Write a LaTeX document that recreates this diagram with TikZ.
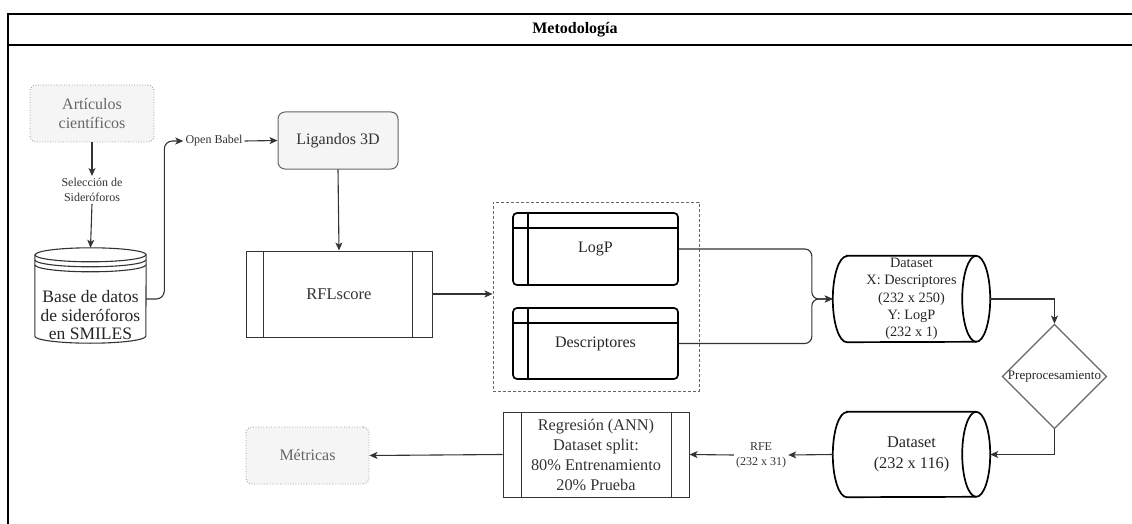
\documentclass[tikz,border=0pt]{standalone}
\usepackage{fontspec}
\setmainfont{Liberation Serif}
\usetikzlibrary{arrows.meta,shapes.geometric,calc}
\definecolor{lightfill}{HTML}{F5F5F5}
\definecolor{midgray}{HTML}{666666}
\definecolor{darkgray}{HTML}{333333}
\definecolor{dotgray}{HTML}{9A9A9A}
\newcommand{\fsz}[2]{\fontsize{#1}{#2}\selectfont}
\begin{document}
\begin{tikzpicture}[x=1pt,y=-1pt,
  box/.style={rectangle, inner sep=0pt, align=center},
  softbox/.style={box, rounded corners=6pt, draw=dotgray, fill=lightfill, dash pattern=on 0.8pt off 1.8pt, line width=0.9pt, text=midgray, font=\fsz{16}{19}},
  ligbox/.style={box, rounded corners=7pt, draw=midgray, fill=lightfill, line width=1pt, text=darkgray, font=\fsz{16}{19}},
  procbox/.style={box, draw=darkgray, line width=1pt, text=darkgray},
  tablebox/.style={box, draw=black, line width=1.7pt, rounded corners=4pt, text=black!85, font=\fsz{16}{19}},
  cyltext/.style={box, text=black!85},
  lbl/.style={rectangle, inner sep=2pt, align=center, text=darkgray, fill=white, font=\fsz{12}{15}},
  arr/.style={draw=darkgray, line width=1.1pt, -{Stealth[length=8pt,width=7pt,inset=2pt]}},
  thickline/.style={draw=black, line width=1.7pt},
  frameline/.style={draw=black, line width=1.2pt}
]
\useasboundingbox (0,0) rectangle (1132,524);
% frame
\coordinate (ftl) at (8,14);
\coordinate (ftr) at (1140,14);
\coordinate (fml) at (8,45);
\coordinate (fmr) at (1140,45);
\coordinate (fbl) at (8,530);
\draw[frameline] (ftr) -- (ftl) -- (fbl);
\draw[frameline] (fml) -- (fmr);
\node[box, font=\fsz{16}{19}\bfseries] (title) at (575,30) {Metodología};

% nodes
\node[softbox, minimum width=124pt, minimum height=57pt] (art) at (92,113.5) {Artículos\\científicos};
\node[lbl] (sel) at (92,190) {Selección de\\Sideróforos};
\node[box, minimum width=111pt, minimum height=95pt] (db) at (90.5,295.5) {};
\node[cyltext, font=\fsz{17.5}{18.5}] (dbtxt) at (90.5,315.5) {Base de datos\\de sideróforos\\en SMILES};
\node[lbl] (ob) at (214,141) {Open Babel};
\node[ligbox, minimum width=120pt, minimum height=57pt] (lig) at (338,140.5) {Ligandos 3D};
\node[procbox, minimum width=186pt, minimum height=86pt, font=\fsz{16.5}{19}] (rfl) at (339,294) {RFLscore};
\node[box, draw=midgray, line width=1pt, dash pattern=on 3pt off 2pt, minimum width=206pt, minimum height=189pt] (grp) at (596,296.5) {};
\node[tablebox, minimum width=165pt, minimum height=72pt] (logp) at (595.5,249) {LogP};
\node[tablebox, minimum width=165pt, minimum height=71pt] (desc) at (595.5,343.5) {Descriptores};
\node[cyltext, minimum width=157pt, minimum height=86pt, font=\fsz{14.3}{17.2}] (ds1) at (911.5,299) {Dataset\\X: Descriptores\\(232 x 250)\\Y: LogP\\(232 x 1)};
\node[diamond, draw=midgray, line width=1.2pt, inner sep=0pt, minimum width=103pt, minimum height=93pt, font=\fsz{13}{15}, text=black!85] (pre) at (1054.5,376.5) {Preprocesamiento};
\node[cyltext, minimum width=157pt, minimum height=85pt, font=\fsz{16.3}{21}] (ds2) at (911.5,454.5) {Dataset\\(232 x 116)};
\node[lbl] (rfe) at (761,455) {RFE\\(232 x 31)};
\node[procbox, minimum width=186pt, minimum height=85pt, font=\fsz{16.3}{20}] (reg) at (596,454.5) {Regresión (ANN)\\Dataset split:\\80\% Entrenamiento\\20\% Prueba};
\node[softbox, minimum width=123pt, minimum height=57pt] (met) at (307.5,455.5) {Métricas};

% database cylinder (vertical, stacked top)
\draw[draw=darkgray, line width=1.1pt] ([yshift=-7pt]db.north west) -- ([yshift=7pt]db.south west)
  arc[start angle=180, end angle=360, x radius=55.5pt, y radius=7pt]
  -- ([yshift=-7pt]db.north east)
  arc[start angle=0, end angle=180, x radius=55.5pt, y radius=7pt] -- cycle;
\draw[draw=darkgray, line width=1.1pt] ([yshift=-7pt]db.north west) arc[start angle=180, end angle=360, x radius=55.5pt, y radius=7pt];
\draw[draw=darkgray, line width=1.1pt] ([yshift=-12pt]db.north west) arc[start angle=180, end angle=360, x radius=55.5pt, y radius=7pt];
\draw[draw=darkgray, line width=1.1pt] ([yshift=-17pt]db.north west) arc[start angle=180, end angle=360, x radius=55.5pt, y radius=7pt];

% process side bars
\draw[draw=darkgray, line width=1pt] ([xshift=18pt]rfl.north west) -- ([xshift=18pt]rfl.south west);
\draw[draw=darkgray, line width=1pt] ([xshift=-20pt]rfl.north east) -- ([xshift=-20pt]rfl.south east);
\draw[draw=darkgray, line width=1pt] ([xshift=19pt]reg.north west) -- ([xshift=19pt]reg.south west);
\draw[draw=darkgray, line width=1pt] ([xshift=-18pt]reg.north east) -- ([xshift=-18pt]reg.south east);

% table boxes inner lines
\draw[thickline] ([yshift=-16pt]logp.north west) -- ([yshift=-16pt]logp.north east);
\draw[thickline] ([xshift=16pt]logp.north west) -- ([xshift=16pt]logp.south west);
\draw[thickline] ([yshift=-16pt]desc.north west) -- ([yshift=-16pt]desc.north east);
\draw[thickline] ([xshift=16pt]desc.north west) -- ([xshift=16pt]desc.south west);

% horizontal cylinders
\draw[thickline] ([xshift=14pt]ds1.north west) -- ([xshift=-14pt]ds1.north east)
  arc[start angle=90, end angle=-90, x radius=14pt, y radius=43pt]
  -- ([xshift=14pt]ds1.south west)
  arc[start angle=270, end angle=90, x radius=14pt, y radius=43pt] -- cycle;
\draw[thickline] ([xshift=-14pt]ds1.north east) arc[start angle=90, end angle=270, x radius=14pt, y radius=43pt];
\draw[thickline] ([xshift=14pt]ds2.north west) -- ([xshift=-14pt]ds2.north east)
  arc[start angle=90, end angle=-90, x radius=14pt, y radius=42.5pt]
  -- ([xshift=14pt]ds2.south west)
  arc[start angle=270, end angle=90, x radius=14pt, y radius=42.5pt] -- cycle;
\draw[thickline] ([xshift=-14pt]ds2.north east) arc[start angle=90, end angle=270, x radius=14pt, y radius=42.5pt];

% connectors
\draw[arr] (art.south) -- (sel.north);
\draw[arr] (sel.south) -- (db.north);
\draw[arr, rounded corners=8pt] ([yshift=-3.5pt]db.east) -| ($(ob.west)+(-19,0)$) -- (ob.west);
\draw[arr] (ob.east) -- (lig.west);
\draw[arr] (lig.south) -- (rfl.north);
\draw[arr] (rfl.east) -- (rfl.east -| grp.west);
\draw[arr, rounded corners=7pt] (logp.east) -| ($(ds1.west)+(-21,0)$) -- (ds1.west);
\draw[arr, rounded corners=7pt] (desc.east) -| ($(ds1.west)+(-21,0)$) -- (ds1.west);
\draw[arr] (ds1.east) -| (pre.north);
\draw[arr] (pre.south) |- (ds2.east);
\draw[arr] (ds2.west) -- (rfe.east);
\draw[arr] (rfe.west) -- (reg.east);
\draw[arr] (reg.west) -- (met.east);
\end{tikzpicture}
\end{document}
